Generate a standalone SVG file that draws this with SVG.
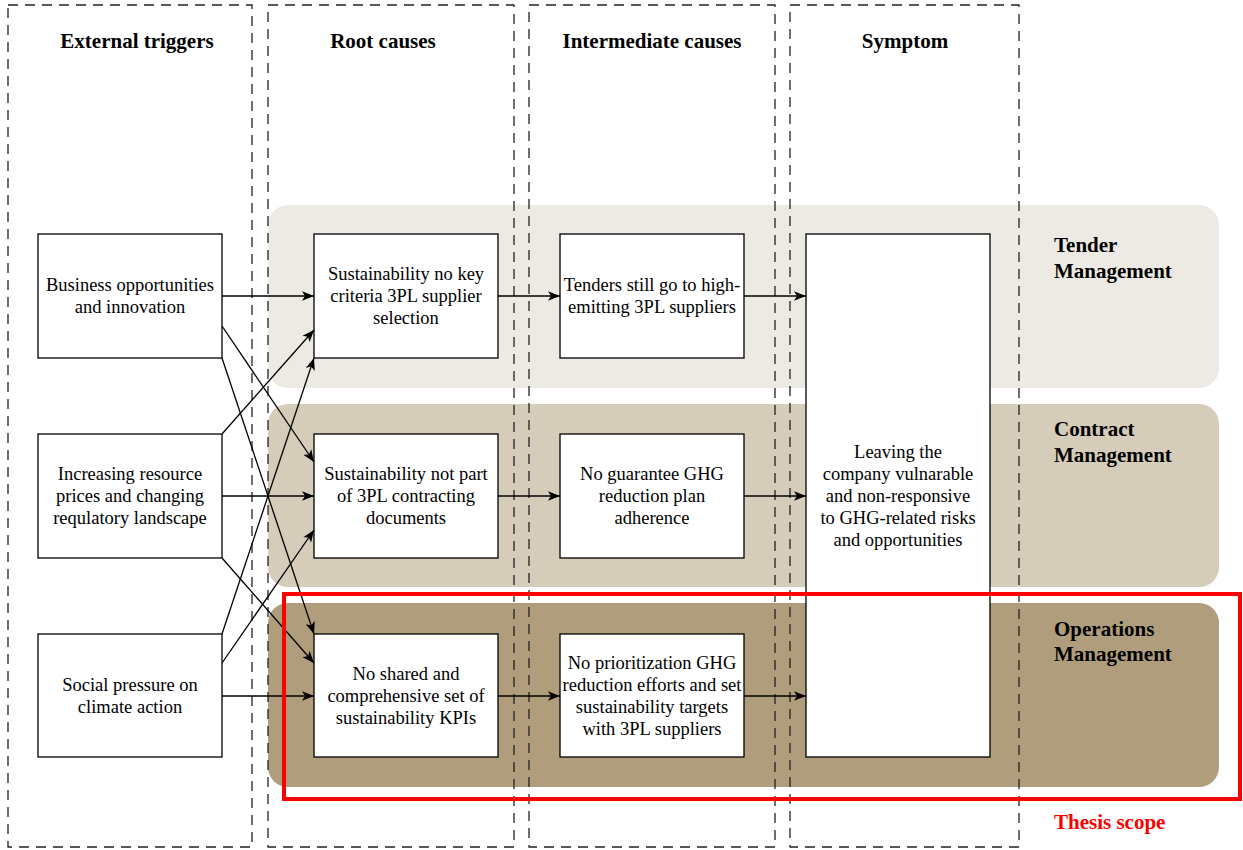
<svg xmlns="http://www.w3.org/2000/svg" width="1243" height="850" viewBox="0 0 1243 850">
<defs>
<style>
.col{fill:none;stroke:#222;stroke-width:1.3;stroke-dasharray:10 7}
.node{fill:#fff;stroke:#000;stroke-width:1.3}
.t{font-family:"Liberation Serif","Times New Roman",serif;font-size:18.5px;fill:#000;text-anchor:middle}
.h{font-family:"Liberation Serif","Times New Roman",serif;font-size:21px;font-weight:bold;fill:#000;text-anchor:middle}
.lane{font-family:"Liberation Serif","Times New Roman",serif;font-size:21px;font-weight:bold;fill:#000}
.e{fill:none;stroke:#000;stroke-width:1.3;marker-end:url(#arr)}
</style>
<marker id="arr" viewBox="0 0 10 8" refX="10" refY="4" markerWidth="12" markerHeight="10" markerUnits="userSpaceOnUse" orient="auto">
<path d="M0,0 L10,4 L0,8 L2.5,4 Z" fill="#000"/>
</marker>
</defs>
<rect width="1243" height="850" fill="#fff"/>
<g id="lanes">
<rect x="268" y="205" width="951" height="183" rx="20" fill="#EDEAE3"/>
<rect x="268" y="404" width="951" height="183" rx="20" fill="#D5CCBA"/>
<rect x="268" y="603" width="951" height="184" rx="20" fill="#B09D7B"/>
<text class="lane" x="1054" y="252">Tender</text>
<text class="lane" x="1054" y="278">Management</text>
<text class="lane" x="1054" y="436">Contract</text>
<text class="lane" x="1054" y="462">Management</text>
<text class="lane" x="1054" y="636">Operations</text>
<text class="lane" x="1054" y="661">Management</text>
</g>
<g id="columns">
<rect class="col" x="8" y="5" width="244" height="842"/>
<rect class="col" x="268" y="5" width="246" height="842"/>
<rect class="col" x="529" y="5" width="246" height="842"/>
<rect class="col" x="790" y="5" width="229" height="842"/>
<text class="h" x="137" y="48">External triggers</text>
<text class="h" x="383" y="48">Root causes</text>
<text class="h" x="652" y="48">Intermediate causes</text>
<text class="h" x="905" y="48">Symptom</text>
</g>
<g id="connectors">
<line class="e" x1="222" y1="296" x2="314" y2="296"/>
<line class="e" x1="222" y1="326" x2="314" y2="462"/>
<line class="e" x1="222" y1="358" x2="314" y2="634"/>
<line class="e" x1="222" y1="434" x2="314" y2="330"/>
<line class="e" x1="222" y1="496" x2="314" y2="496"/>
<line class="e" x1="222" y1="558" x2="314" y2="663"/>
<line class="e" x1="222" y1="634" x2="314" y2="358"/>
<line class="e" x1="222" y1="663" x2="314" y2="530"/>
<line class="e" x1="222" y1="696" x2="314" y2="696"/>
<line class="e" x1="498" y1="296" x2="560" y2="296"/>
<line class="e" x1="498" y1="496" x2="560" y2="496"/>
<line class="e" x1="498" y1="696" x2="560" y2="696"/>
<line class="e" x1="744" y1="296" x2="806" y2="296"/>
<line class="e" x1="744" y1="496" x2="806" y2="496"/>
<line class="e" x1="744" y1="696" x2="806" y2="696"/>
</g>
<g id="n-business">
<rect class="node" x="38" y="234" width="184" height="124"/>
<text class="t" x="130" y="291">Business opportunities</text>
<text class="t" x="130" y="313">and innovation</text>
</g>
<g id="n-resource">
<rect class="node" x="38" y="434" width="184" height="124"/>
<text class="t" x="130" y="480">Increasing resource</text>
<text class="t" x="130" y="502">prices and changing</text>
<text class="t" x="130" y="524">requlatory landscape</text>
</g>
<g id="n-social">
<rect class="node" x="38" y="634" width="184" height="123"/>
<text class="t" x="130" y="691">Social pressure on</text>
<text class="t" x="130" y="713">climate action</text>
</g>
<g id="n-root1">
<rect class="node" x="314" y="234" width="184" height="124"/>
<text class="t" x="406" y="280">Sustainability no key</text>
<text class="t" x="406" y="302">criteria 3PL supplier</text>
<text class="t" x="406" y="324">selection</text>
</g>
<g id="n-root2">
<rect class="node" x="314" y="434" width="184" height="124"/>
<text class="t" x="406" y="480">Sustainability not part</text>
<text class="t" x="406" y="502">of 3PL contracting</text>
<text class="t" x="406" y="524">documents</text>
</g>
<g id="n-root3">
<rect class="node" x="314" y="634" width="184" height="123"/>
<text class="t" x="406" y="680">No shared and</text>
<text class="t" x="406" y="702">comprehensive set of</text>
<text class="t" x="406" y="724">sustainability KPIs</text>
</g>
<g id="n-int1">
<rect class="node" x="560" y="234" width="184" height="124"/>
<text class="t" x="652" y="291">Tenders still go to high-</text>
<text class="t" x="652" y="313">emitting 3PL suppliers</text>
</g>
<g id="n-int2">
<rect class="node" x="560" y="434" width="184" height="124"/>
<text class="t" x="652" y="480">No guarantee GHG</text>
<text class="t" x="652" y="502">reduction plan</text>
<text class="t" x="652" y="524">adherence</text>
</g>
<g id="n-int3">
<rect class="node" x="560" y="634" width="184" height="123"/>
<text class="t" x="652" y="669">No prioritization GHG</text>
<text class="t" x="652" y="691">reduction efforts and set</text>
<text class="t" x="652" y="713">sustainability targets</text>
<text class="t" x="652" y="735">with 3PL suppliers</text>
</g>
<g id="n-symptom">
<rect class="node" x="806" y="234" width="184" height="523"/>
<text class="t" x="898" y="458">Leaving the</text>
<text class="t" x="898" y="480">company vulnarable</text>
<text class="t" x="898" y="502">and non-responsive</text>
<text class="t" x="898" y="524">to GHG-related risks</text>
<text class="t" x="898" y="546">and opportunities</text>
</g>
<g id="thesis-scope">
<rect x="284" y="594" width="956" height="205" fill="none" stroke="#FF0000" stroke-width="4"/>
<text class="lane" x="1054" y="829" style="fill:#FF0000">Thesis scope</text>
</g>
</svg>
